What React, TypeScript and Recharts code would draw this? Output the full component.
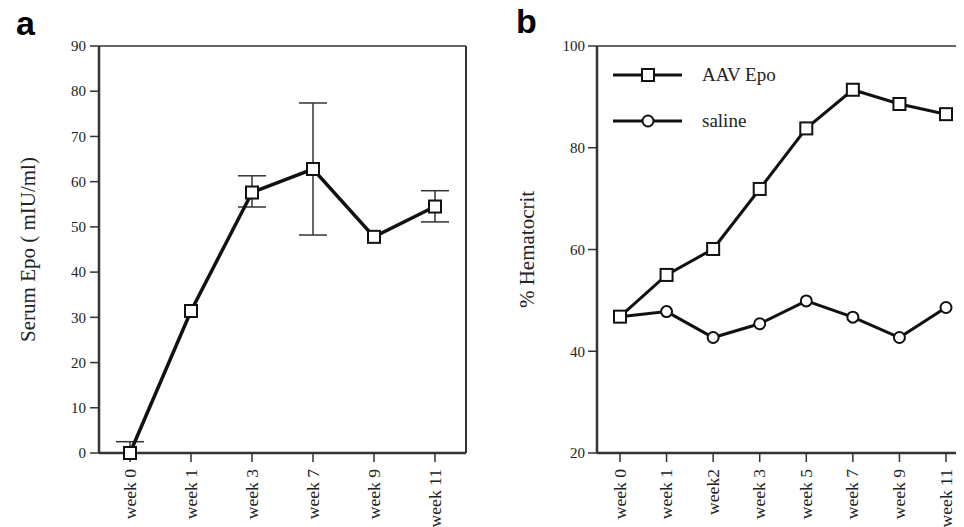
import {
  LineChart,
  Line,
  XAxis,
  YAxis,
  ErrorBar,
  Legend,
} from "recharts";

// panel a: serum Epo
const weeksA = ["week 0", "week 1", "week 3", "week 7", "week 9", "week 11"];
const serumEpo = [0, 31.4, 57.6, 62.8, 47.8, 54.5];
const serumErrLow = [0, null, 3.2, 14.6, null, 3.4];
const serumErrHigh = [2.5, null, 3.7, 14.6, null, 3.5];
const ticksA = [0, 10, 20, 30, 40, 50, 60, 70, 80, 90];

// panel b: hematocrit
const weeksB = ["week 0", "week 1", "week2", "week 3", "week 5", "week 7", "week 9", "week 11"];
const aavEpo = [46.8, 55.0, 60.1, 71.9, 83.8, 91.4, 88.6, 86.6];
const saline = [46.8, 47.8, 42.7, 45.4, 49.9, 46.7, 42.7, 48.6];
const ticksB = [20, 40, 60, 80, 100];
const legendOrder = ["aav", "saline"];

const dataA = weeksA.map((week, i) => ({
  week,
  epo: serumEpo[i],
  err: serumErrLow[i] == null ? null : [serumErrLow[i], serumErrHigh[i]],
}));

const dataB = weeksB.map((week, i) => ({
  week,
  aav: aavEpo[i],
  saline: saline[i],
}));

const SERIF = "'Liberation Serif', 'DejaVu Serif', serif";
const INK = "#111";
const AXIS = "#333";

const SquareDot = (props: any) => {
  const { cx, cy, index } = props;
  if (cx == null || cy == null) return null;
  return (
    <rect
      key={`sq-${index}`}
      x={cx - 6}
      y={cy - 6}
      width={12}
      height={12}
      fill="#fff"
      stroke={INK}
      strokeWidth={2}
    />
  );
};

const CircleDot = (props: any) => {
  const { cx, cy, index } = props;
  if (cx == null || cy == null) return null;
  return <circle key={`ci-${index}`} cx={cx} cy={cy} r={5.5} fill="#fff" stroke={INK} strokeWidth={2} />;
};

// vertical week labels, a bit stretched along their length like the scan
const RotTick = ({ x, y, payload }: any) => (
  <text
    x={x}
    y={y}
    transform={`rotate(-90, ${x}, ${y}) translate(${x}, ${y}) scale(1.1, 1) translate(${-x}, ${-y})`}
    textAnchor="end"
    dy="0.35em"
    fontSize={16}
    fontFamily={SERIF}
    fill="#222"
  >
    {payload.value}
  </text>
);

const YTick = ({ x, y, payload }: any) => (
  <text x={x} y={y} textAnchor="end" dy="0.35em" fontSize={15} fontFamily={SERIF} fill="#222">
    {payload.value}
  </text>
);

const HemaLegend = ({ payload }: any) => {
  const items = [...(payload || [])].sort(
    (a: any, b: any) => legendOrder.indexOf(a.dataKey) - legendOrder.indexOf(b.dataKey)
  );
  return (
    <div>
      {items.map((it: any) => (
        <div key={it.dataKey} style={{ display: "flex", alignItems: "center", height: 46 }}>
          <svg width={69} height={20}>
            <line x1={0} y1={10} x2={69} y2={10} stroke={INK} strokeWidth={3} />
            {it.dataKey === "aav" ? (
              <rect x={29} y={4} width={12} height={12} fill="#fff" stroke={INK} strokeWidth={2} />
            ) : (
              <circle cx={35} cy={10} r={5.5} fill="#fff" stroke={INK} strokeWidth={2} />
            )}
          </svg>
          <span style={{ marginLeft: 20, fontFamily: SERIF, fontSize: 19, color: "#222" }}>{it.value}</span>
        </div>
      ))}
    </div>
  );
};

const panelLabel = {
  position: "absolute" as const,
  fontFamily: "'Liberation Sans', Arial, sans-serif",
  fontWeight: 700,
  fontSize: 34,
  lineHeight: 1,
};

export default function App() {
  return (
    <div
      style={{
        position: "relative",
        width: 964,
        height: 527,
        marginLeft: -8,
        marginTop: -8,
        overflow: "hidden",
        background: "#fff",
      }}
    >
      <div style={{ ...panelLabel, left: 16, top: 6 }}>a</div>
      <div style={{ ...panelLabel, left: 516, top: 4 }}>b</div>

      <div style={{ position: "absolute", left: 0, top: 0 }}>
        <LineChart width={480} height={527} data={dataA} margin={{ top: 45, right: 13, bottom: 0, left: 0 }}>
          <XAxis
            dataKey="week"
            height={74}
            padding={{ left: 31, right: 31 }}
            axisLine={{ stroke: AXIS, strokeWidth: 2.5 }}
            tickLine={{ stroke: AXIS, strokeWidth: 1.5 }}
            tickSize={9}
            tickMargin={7}
            tick={<RotTick />}
            interval={0}
          />
          {/* top and right frame */}
          <XAxis xAxisId="top" dataKey="week" orientation="top" height={1} tick={false} tickLine={false} axisLine={{ stroke: AXIS, strokeWidth: 1.5 }} />
          <YAxis
            width={99}
            domain={[0, 90]}
            ticks={ticksA}
            interval={0}
            axisLine={{ stroke: AXIS, strokeWidth: 2.5 }}
            tickLine={{ stroke: AXIS, strokeWidth: 1.5 }}
            tickSize={9}
            tickMargin={4}
            tick={<YTick />}
            label={{
              value: "Serum Epo ( mIU/ml)",
              angle: -90,
              position: "center",
              dx: -22,
              style: { fontSize: 21, fontFamily: SERIF, fill: "#222", textAnchor: "middle" },
            }}
          />
          <YAxis yAxisId="right" orientation="right" width={1} tick={false} tickLine={false} axisLine={{ stroke: AXIS, strokeWidth: 2 }} />
          <Line
            dataKey="epo"
            stroke={INK}
            strokeWidth={3.5}
            dot={<SquareDot />}
            activeDot={false}
            isAnimationActive={false}
          >
            <ErrorBar dataKey="err" width={14} stroke="#333" strokeWidth={1.5} direction="y" />
          </Line>
        </LineChart>
      </div>

      <div style={{ position: "absolute", left: 480, top: 0 }}>
        <LineChart width={489} height={527} data={dataB} margin={{ top: 45, right: 0, bottom: 0, left: 0 }}>
          <XAxis
            dataKey="week"
            height={74}
            padding={{ left: 23, right: 23 }}
            axisLine={{ stroke: AXIS, strokeWidth: 2.5 }}
            tickLine={{ stroke: AXIS, strokeWidth: 1.5 }}
            tickSize={9}
            tickMargin={7}
            tick={<RotTick />}
            interval={0}
          />
          <XAxis xAxisId="top" dataKey="week" orientation="top" height={1} tick={false} tickLine={false} axisLine={{ stroke: AXIS, strokeWidth: 1.5 }} />
          <YAxis
            width={117}
            domain={[20, 100]}
            ticks={ticksB}
            interval={0}
            axisLine={{ stroke: AXIS, strokeWidth: 2.5 }}
            tickLine={{ stroke: AXIS, strokeWidth: 1.5 }}
            tickSize={9}
            tickMargin={3}
            tick={<YTick />}
            label={{
              value: "% Hematocrit",
              angle: -90,
              position: "center",
              dx: -12,
              style: { fontSize: 21, fontFamily: SERIF, fill: "#222", textAnchor: "middle" },
            }}
          />
          <Legend
            layout="vertical"
            align="center"
            verticalAlign="middle"
            content={<HemaLegend />}
            wrapperStyle={{ position: "absolute", left: 133, top: 52, width: 200, height: "auto" }}
          />
          <Line
            dataKey="saline"
            name="saline"
            stroke={INK}
            strokeWidth={3}
            dot={<CircleDot />}
            activeDot={false}
            isAnimationActive={false}
          />
          <Line
            dataKey="aav"
            name="AAV Epo"
            stroke={INK}
            strokeWidth={3}
            dot={<SquareDot />}
            activeDot={false}
            isAnimationActive={false}
          />
        </LineChart>
      </div>
    </div>
  );
}
